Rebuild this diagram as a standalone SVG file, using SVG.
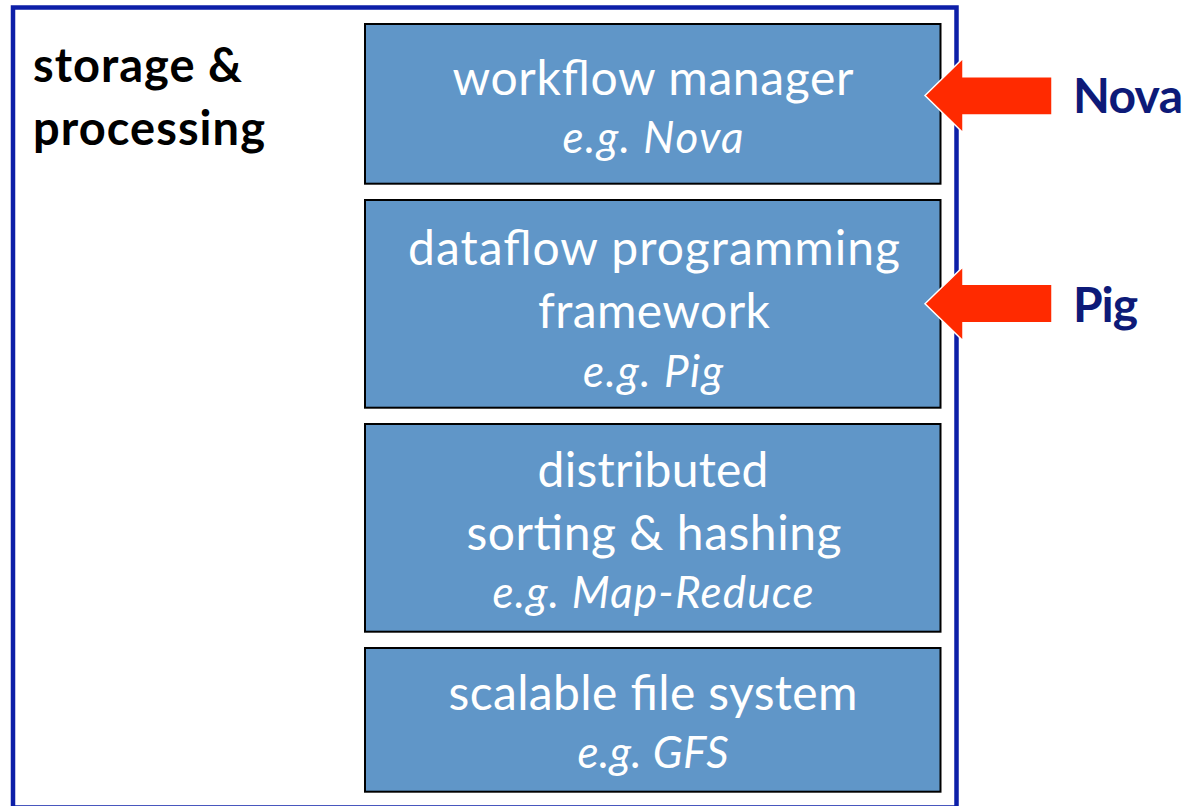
<svg xmlns="http://www.w3.org/2000/svg" width="1191" height="806" viewBox="0 0 1191 806">
<style>
.outer{fill:#ffffff;stroke:#0D1FA8;stroke-width:4.5}
.box{fill:#6096C8;stroke:#000000;stroke-width:2}
.t{font-family:Lato,"Open Sans","Liberation Sans",sans-serif;fill:#ffffff;text-anchor:middle;font-size:48px}
.i{font-family:Lato,"Open Sans","Liberation Sans",sans-serif;fill:#ffffff;text-anchor:middle;font-size:44px;font-style:italic}
.h{font-family:Lato,"Open Sans","Liberation Sans",sans-serif;fill:#000000;font-size:47px;font-weight:bold}
.lbl{font-family:Lato,"Open Sans","Liberation Sans",sans-serif;fill:#0D1A78;font-size:48px;font-weight:bold}
.arrow{fill:#FF2A00;stroke:#ffffff;stroke-width:1.5;stroke-linejoin:miter}
</style>
<rect width="1191" height="806" fill="#ffffff"/>
<g id="container">
<rect class="outer" x="13" y="7.5" width="943.5" height="800"/>
<text class="h" x="33" y="82" textLength="209">storage &amp;</text>
<text class="h" x="33" y="145" textLength="232">processing</text>
</g>
<g id="workflow-manager">
<rect class="box" x="365" y="24" width="575.5" height="159.7"/>
<text class="t" x="653" y="95" textLength="401">workflow manager</text>
<text class="i" x="653" y="153" textLength="181">e.g. Nova</text>
</g>
<g id="dataflow-framework">
<rect class="box" x="365" y="200" width="575.5" height="207.7"/>
<text class="t" x="654" y="265" textLength="492">dataflow programming</text>
<text class="t" x="654" y="328" textLength="232">framework</text>
<text class="i" x="653" y="387" textLength="140">e.g. Pig</text>
</g>
<g id="distributed-sorting">
<rect class="box" x="365" y="424" width="575.5" height="207.7"/>
<text class="t" x="653" y="487" textLength="231">distributed</text>
<text class="t" x="654" y="550" textLength="375">sorting &amp; hashing</text>
<text class="i" x="653" y="608" textLength="321">e.g. Map-Reduce</text>
</g>
<g id="file-system">
<rect class="box" x="365" y="648" width="575.5" height="143.7"/>
<text class="t" x="653" y="710" textLength="409">scalable file system</text>
<text class="i" x="653" y="768" textLength="151">e.g. GFS</text>
</g>
<g id="label-nova">
<text class="lbl" x="1073" y="113" textLength="110">Nova</text>
</g>
<g id="label-pig">
<text class="lbl" x="1073" y="322" textLength="65">Pig</text>
</g>
<g id="connectors">
<polygon class="arrow" points="925,95.5 963,58.3 963,76.7 1052,76.7 1052,115 963,115 963,132.7"/>
<polygon class="arrow" points="925,303.7 963,266.7 963,284.3 1052,284.3 1052,322.7 963,322.7 963,340.7"/>
</g>
</svg>
